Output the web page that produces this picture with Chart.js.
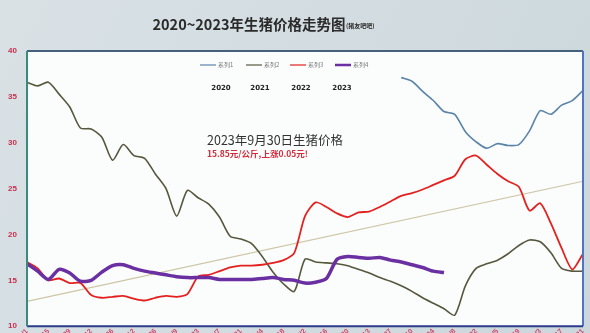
<!DOCTYPE html>
<html>
<head>
<meta charset="utf-8">
<script src="https://cdn.jsdelivr.net/npm/chart.js@4.4.0/dist/chart.umd.min.js"></script>
<style>
  html, body { margin: 0; padding: 0; background: #d5dee3; }
  canvas { display: block; }
</style>
</head>
<body>
<canvas id="grafico" width="590" height="333"></canvas>
<script>
// eixo x: semanas do ano
const semanas = ['1/1','1/8','1/15','1/22','1/29','2/5','2/12','2/19','2/26','3/5','3/12','3/19','3/26',
  '4/2','4/9','4/16','4/23','4/30','5/7','5/14','5/21','5/28','6/4','6/11','6/18','6/25',
  '7/2','7/9','7/16','7/23','7/30','8/6','8/13','8/20','8/27','9/3','9/10','9/17','9/24',
  '10/1','10/8','10/15','10/22','10/29','11/5','11/12','11/19','11/26','12/3','12/10','12/17','12/24','12/31'];

const anos = ['2020', '2021', '2022', '2023'];
const nomesSeries = ['系列1', '系列2', '系列3', '系列4'];

// 2020 (só a parte final aparece no gráfico)
const preco2020 = [null,null,null,null,null,null,null,null,null,null,null,null,null,null,null,null,null,null,
  null,null,null,null,null,null,null,null,null,null,null,null,null,null,null,null,null,
  37.1,36.7,35.6,34.6,33.4,33.1,31.2,30.1,29.4,29.9,29.7,29.8,31.3,33.5,33.1,34.1,34.6,35.7];

const preco2021 = [36.6,36.2,36.6,35.3,33.9,31.6,31.5,30.6,28.1,29.8,28.6,28.3,26.6,25.0,22.0,24.8,24.0,23.3,
  21.9,19.8,19.5,19.0,17.6,15.9,14.6,13.8,17.3,17.0,16.9,16.8,16.6,16.2,15.8,15.3,14.9,14.4,13.8,13.1,
  12.5,11.9,11.2,14.4,16.3,16.8,17.2,17.9,18.8,19.4,19.2,18.0,16.3,16.0,16.0];

const preco2022 = [17.0,16.3,15.0,15.2,14.7,14.7,13.4,13.1,13.2,13.3,13.0,12.8,13.1,13.3,13.2,13.5,15.4,15.6,
  16.0,16.4,16.6,16.6,16.7,16.9,17.2,18.0,22.0,23.5,23.0,22.3,21.9,22.4,22.5,23.0,23.6,24.2,24.5,24.9,
  25.4,25.9,26.4,28.2,28.6,27.6,26.6,25.8,25.2,22.6,23.4,21.2,18.5,16.2,17.9];

const preco2023 = [16.8,16.0,15.1,16.2,15.8,14.9,15.0,15.9,16.6,16.7,16.3,16.0,15.8,15.6,15.4,15.3,15.3,15.3,
  15.1,15.1,15.1,15.1,15.2,15.3,15.1,15.0,14.7,14.8,15.2,17.3,17.6,17.5,17.4,17.5,17.2,17.0,16.7,16.4,
  16.0,15.85];

// linha de tendência (só início e fim)
const tendencia = [12.7,null,null,null,null,null,null,null,null,null,null,null,null,null,null,null,null,null,
  null,null,null,null,null,null,null,null,null,null,null,null,null,null,null,null,null,null,null,null,
  null,null,null,null,null,null,null,null,null,null,null,null,null,null,25.8];

const ticksY = [10, 15, 20, 25, 30, 35, 40];

const fonteCJK = '"Noto Sans CJK SC", "Noto Sans", sans-serif';

function linha(label, data, cor, largura, ordem) {
    return {
        label: label,
        data: data,
        borderColor: cor,
        backgroundColor: cor,
        borderWidth: largura,
        pointRadius: 0,
        tension: 0.25,
        fill: false,
        order: ordem
    };
}

// fundo, moldura, legenda e textos
const enfeites = {
    id: 'enfeites',
    beforeDraw(chart) {
        const c = chart.ctx;
        const a = chart.chartArea;
        const g = c.createLinearGradient(0, 0, chart.width, chart.height);
        g.addColorStop(0, '#d9e1e5');
        g.addColorStop(1, '#cbd7dc');
        c.save();
        c.fillStyle = g;
        c.fillRect(0, 0, chart.width, chart.height);
        c.fillStyle = '#fbfcfc';
        c.fillRect(a.left, a.top, a.right - a.left, a.bottom - a.top);
        c.restore();
    },
    afterDraw(chart) {
        const c = chart.ctx;
        const a = chart.chartArea;
        c.save();
        // moldura
        c.lineWidth = 2;
        c.strokeStyle = '#45617e';
        c.beginPath(); c.moveTo(a.left, a.top); c.lineTo(a.right, a.top); c.stroke();
        c.strokeStyle = '#4f74c4';
        c.beginPath(); c.moveTo(a.right, a.top); c.lineTo(a.right, a.bottom); c.stroke();
        c.strokeStyle = '#2c3c8c';
        c.beginPath(); c.moveTo(a.left, a.bottom); c.lineTo(a.right, a.bottom); c.stroke();
        c.strokeStyle = '#3a8a7e';
        c.beginPath(); c.moveTo(a.left, a.top); c.lineTo(a.left, a.bottom); c.stroke();

        // título
        c.textBaseline = 'middle';
        c.fillStyle = '#2b2b2b';
        c.font = 'bold 14.5px ' + fonteCJK;
        c.textAlign = 'center';
        c.fillText('2020~2023年生猪价格走势图', 249, 24);
        c.font = 'bold 6px ' + fonteCJK;
        c.textAlign = 'left';
        c.fillText('(猪友吧吧)', 346, 26);

        // legenda
        const xs = [200, 246, 290, 335];
        chart.data.datasets.forEach(function (ds, i) {
            if (i > 3) return;
            c.strokeStyle = ds.borderColor;
            c.lineWidth = i === 3 ? 2.5 : 1.2;
            c.beginPath(); c.moveTo(xs[i], 65); c.lineTo(xs[i] + 16, 65); c.stroke();
            c.fillStyle = '#777';
            c.font = '6px ' + fonteCJK;
            c.fillText(ds.label, xs[i] + 18, 65);
            c.fillStyle = '#222';
            c.font = 'bold 7px "DejaVu Sans", sans-serif';
            c.textAlign = 'center';
            c.fillText(anos[i], [221, 260, 301, 342][i], 88);
            c.textAlign = 'left';
        });

        // anotação
        c.fillStyle = '#333';
        c.font = '12.5px ' + fonteCJK;
        c.fillText('2023年9月30日生猪价格', 207, 140);
        c.fillStyle = '#d42a3a';
        c.font = 'bold 8.5px ' + fonteCJK;
        c.fillText('15.85元/公斤,上涨0.05元!', 207, 154);
        c.restore();
    }
};

const ctx = document.getElementById('grafico').getContext('2d');
new Chart(ctx, {
    type: 'line',
    data: {
        labels: semanas,
        datasets: [
            linha(nomesSeries[0], preco2020, '#5a84a8', 1.6, 3),
            linha(nomesSeries[1], preco2021, '#56583e', 1.6, 2),
            linha(nomesSeries[2], preco2022, '#e3211f', 1.8, 1),
            linha(nomesSeries[3], preco2023, '#6a30a2', 3.5, 0),
            Object.assign(linha('趋势', tendencia, '#cdc6a6', 1.2, 4), { spanGaps: true, tension: 0 })
        ]
    },
    options: {
        responsive: false,
        animation: false,
        layout: { padding: { top: 51, right: 7, left: 0, bottom: -7 } },
        plugins: {
            legend: { display: false },
            tooltip: { enabled: false },
            title: { display: false }
        },
        scales: {
            x: {
                offset: false,
                grid: { display: false, drawTicks: false },
                border: { display: false },
                ticks: {
                    autoSkip: false,
                    maxRotation: 45,
                    minRotation: 45,
                    padding: 1,
                    color: '#d2486a',
                    font: { size: 7, weight: 'bold' },
                    callback: function (v, i) { return i % 2 === 0 ? semanas[i] : ''; }
                },
                afterFit: function (s) { s.height = 8; }
            },
            y: {
                min: ticksY[0],
                max: ticksY[ticksY.length - 1],
                grid: { display: false },
                border: { display: false },
                afterBuildTicks: function (s) { s.ticks = ticksY.map(function (v) { return { value: v }; }); },
                ticks: {
                    padding: 2,
                    color: '#c8304e',
                    font: { size: 8, weight: 'bold' }
                },
                afterFit: function (s) { s.width = 27; }
            }
        }
    },
    plugins: [enfeites]
});
</script>
</body>
</html>
